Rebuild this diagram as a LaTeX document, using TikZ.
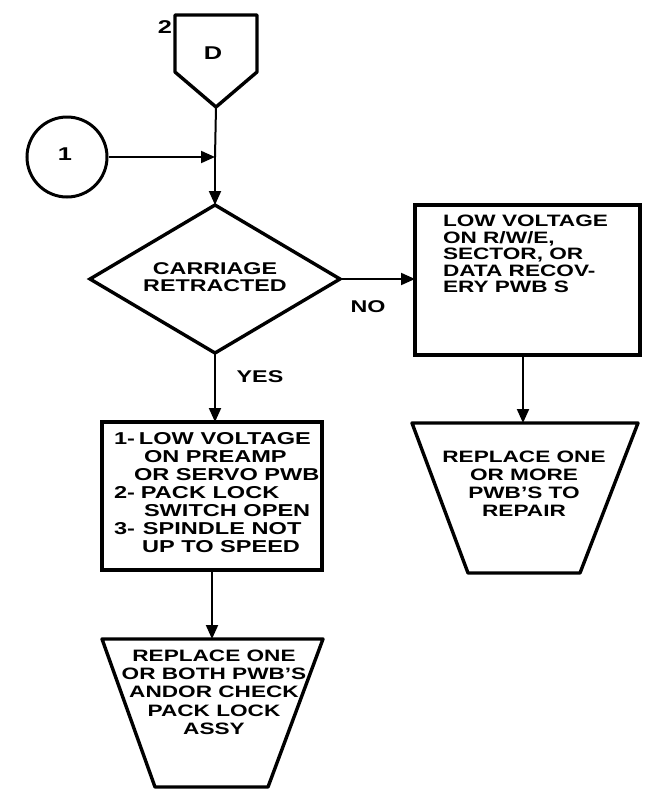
\documentclass[tikz,border=0pt]{standalone}
\usepackage{fontspec}
\setmainfont{Liberation Sans}[FakeStretch=1.37]
\usetikzlibrary{arrows.meta,shapes.geometric}
\newcommand\fcaps[2]{\fontsize{#1}{#2}\selectfont\bfseries}
\begin{document}
\begin{tikzpicture}[x=1pt,y=-1pt,
  shapeline/.style={draw,line width=3.4pt,line join=round},
  box/.style={draw,line width=3.8pt,rectangle,inner sep=0pt,outer sep=0pt},
  lbl/.style={inner sep=0pt,outer sep=0pt},
  small/.style={inner sep=0pt,font=\fontsize{18.5}{18.5}\selectfont\bfseries},
  conn/.style={line width=2pt,-{Triangle[length=14pt,width=12pt]}}]
\useasboundingbox (0,0) rectangle (653,790);
% off-page connector D
\draw[shapeline] (175,15) -- (257,15) -- (257,72) -- (216,107) -- (175,72) -- cycle;
\coordinate (dTip) at (216,107);
\node[small,anchor=base] (dLbl) at (213,59) {D};
\node[small,anchor=base] (dNum) at (165,33) {2};
% on-page connector 1
\node[circle,draw,line width=3pt,minimum size=80pt,inner sep=0pt] (c1) at (67,157) {};
\node[small,anchor=base] (c1Lbl) at (65,160) {1};
\coordinate (join) at (215,157);
% decision
\node[diamond,draw,line width=3.4pt,minimum width=250pt,minimum height=148pt,inner sep=0pt,outer sep=0pt] (dec) at (215,279) {};
\node[lbl,align=center,anchor=north,font={\fcaps{17}{17}}] (decTxt) at (215,263) {CARRIAGE\\RETRACTED};
% right process box
\node[box,minimum width=225pt,minimum height=150pt] (rb) at (527.5,280) {};
\node[lbl,align=left,anchor=north west,font={\fcaps{16.5}{16.6}}] (rbTxt) at (443,215) {LOW VOLTAGE\\ON R/W/E,\\SECTOR, OR\\DATA RECOV-\\ERY PWB S};
% left process box
\node[box,minimum width=220pt,minimum height=148pt] (lb) at (212,496) {};
\node[lbl,align=left,anchor=north west,font={\fcaps{17.2}{18}}] (lbTxt) at (114,432.5) {%
\makebox[25pt][l]{1-}LOW VOLTAGE\\
\hspace*{30pt}ON PREAMP\\
\hspace*{20pt}OR SERVO PWB\\
\makebox[27pt][l]{2-}PACK LOCK\\
\hspace*{30pt}SWITCH OPEN\\
\makebox[29pt][l]{3-}SPINDLE NOT\\
\hspace*{28pt}UP TO SPEED};
% right terminal trapezoid
\draw[shapeline] (412,423) -- (638,423) -- (580,573) -- (468,573) -- cycle;
\coordinate (rtTop) at (523,423);
\node[lbl,align=center,anchor=north,font={\fcaps{16.5}{18}}] (rtTxt) at (524,451) {REPLACE ONE\\OR MORE\\PWB'S TO\\REPAIR};
% bottom terminal trapezoid
\draw[shapeline] (102,639) -- (323,639) -- (268,787) -- (155,787) -- cycle;
\coordinate (ltTop) at (212,639);
\node[lbl,align=center,anchor=north,font={\fcaps{16.5}{18.2}}] (ltTxt) at (214,650) {REPLACE ONE\\OR BOTH PWB'S\\ANDOR CHECK\\PACK LOCK\\ASSY};
% branch labels
\node[lbl,anchor=base,font={\fcaps{17}{17}}] (noLbl) at (368,312) {NO};
\node[lbl,anchor=base,font={\fcaps{17}{17}}] (yesLbl) at (260,382) {YES};
% connectors
\draw[line width=2pt] (dTip) -- (join);
\draw[conn] (join) -- (dec.north);
\draw[conn] (c1.east) -- (join);
\draw[conn] (dec.east) -- (dec.east -| rb.west);
\draw[conn] (dec.south) -- (dec.south |- lb.north);
\draw[conn] (rtTop |- rb.south) -- (rtTop);
\draw[conn] (lb.south) -- (ltTop);
\end{tikzpicture}
\end{document}
